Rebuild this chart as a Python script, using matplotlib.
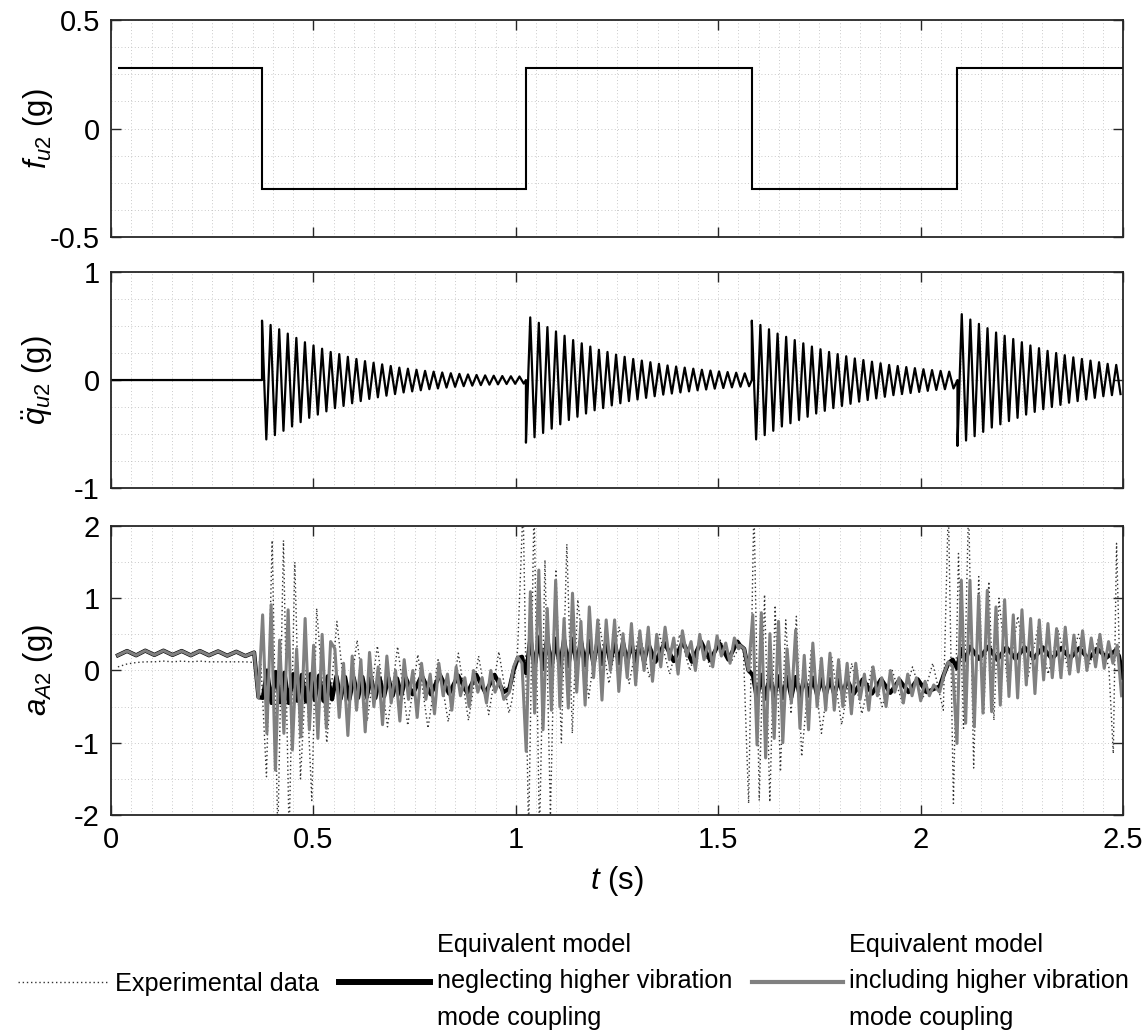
import numpy as np
import matplotlib
matplotlib.use('Agg')
import matplotlib.pyplot as plt
from matplotlib.ticker import MultipleLocator

plt.rcParams['font.family'] = 'Liberation Sans'
plt.rcParams['mathtext.fontset'] = 'custom'
plt.rcParams['mathtext.rm'] = 'Liberation Sans'
plt.rcParams['mathtext.it'] = 'Liberation Sans:italic'
plt.rcParams['axes.unicode_minus'] = False
fs = 21
fs_lab = 22.5
fs_leg = 18.2

# --- panel 1: square-wave excitation f_u2 (g)
f_edges = [0.017, 0.373, 1.025, 1.583, 2.091, 2.5]
f_levels = [0.28, -0.28, 0.28, -0.28, 0.28]

# --- panel 2: modal acceleration, per-cycle peak amplitudes of each burst
q_start = [0.373, 1.025, 1.583, 2.091]
q_sign = [1, -1, 1, -1]
q_half = 0.0106
q_amp1 = [0.55, 0.51, 0.47, 0.43, 0.39, 0.35, 0.32, 0.29, 0.26, 0.24, 0.215,
          0.195, 0.175, 0.16, 0.145, 0.13, 0.115, 0.105, 0.095, 0.085, 0.078,
          0.07, 0.063, 0.057, 0.052, 0.047, 0.043, 0.04, 0.037, 0.035, 0.033]
q_amp2 = [0.58, 0.53, 0.49, 0.45, 0.41, 0.37, 0.34, 0.31, 0.28, 0.26, 0.235,
          0.215, 0.195, 0.18, 0.165, 0.15, 0.135, 0.125, 0.115, 0.105, 0.095,
          0.088, 0.08, 0.074, 0.068, 0.062, 0.058]
q_amp3 = [0.55, 0.51, 0.47, 0.43, 0.40, 0.37, 0.34, 0.31, 0.285, 0.26, 0.24,
          0.22, 0.2, 0.185, 0.17, 0.155, 0.14, 0.13, 0.12, 0.11, 0.1, 0.092,
          0.085, 0.078, 0.072]
q_amp4 = [0.61, 0.56, 0.52, 0.48, 0.44, 0.41, 0.38, 0.35, 0.32, 0.295, 0.27,
          0.25, 0.23, 0.21, 0.195, 0.18, 0.165, 0.15, 0.14, 0.13, 0.12]

# --- panel 3: a_A2 (g); pieces of (start time, half period, successive extremes)
pre_vals = [0.21, 0.27, 0.21, 0.275, 0.215, 0.275, 0.215, 0.27, 0.21, 0.27,
            0.21, 0.265, 0.205, 0.26, 0.2]

black_pieces = [
    (0.017, 0.0225, pre_vals),
    (0.3535, 0.0107, [0.25, -0.37, -0.38, 0.0, -0.45, -0.02, -0.44, -0.03, -0.45,
                      -0.05, -0.42, -0.06, -0.43, -0.05, -0.41, -0.07, -0.42, -0.08,
                      -0.4, -0.08, -0.39, -0.09, -0.4, -0.1, -0.38, -0.09, -0.37,
                      -0.1, -0.38, -0.11, -0.36, -0.1, -0.35, -0.11, -0.34, -0.1]),
    (0.745, 0.0225, [-0.33, -0.07, -0.33, -0.06, -0.32, -0.07, -0.31, -0.06,
                     -0.31, -0.06, -0.3]),
    (0.984, 0.0104, [-0.25, 0.0, 0.17, 0.19, -0.04, 0.45, 0.03, 0.46, 0.02, 0.45,
                     0.04, 0.44, 0.05, 0.43, 0.06, 0.44, 0.07, 0.42, 0.07, 0.41,
                     0.08, 0.42, 0.09, 0.4, 0.1, 0.4, 0.1, 0.39, 0.11, 0.38,
                     0.12, 0.38, 0.12, 0.37]),
    (1.345, 0.0225, [0.12, 0.38, 0.13, 0.4, 0.12, 0.4, 0.14, 0.38, 0.15, 0.4]),
    (1.5535, 0.0106, [0.35, 0.3, 0.0, -0.06, -0.4, -0.06, -0.39, -0.07, -0.38,
                      -0.08, -0.38, -0.09, -0.37, -0.09, -0.36, -0.1, -0.35, -0.1,
                      -0.34, -0.12, -0.34, -0.12, -0.33, -0.13, -0.32, -0.13]),
    (1.835, 0.0225, [-0.32, -0.12, -0.32, -0.12, -0.31, -0.13, -0.3, -0.12, -0.3]),
    (2.047, 0.0107, [-0.22, -0.05, 0.1, 0.15, 0.03, 0.3, 0.15]),
    (2.122, 0.0225, [0.33, 0.16, 0.33, 0.15, 0.32, 0.16, 0.32, 0.17, 0.32, 0.16,
                     0.31, 0.17, 0.31, 0.16, 0.3, 0.18, 0.28]),
    (2.49, 0.01, [0.2, -0.1]),
]

gray_pieces = [
    (0.017, 0.0225, pre_vals),
    (0.3535, 0.0105, [0.25, -0.38, 0.77, -0.87, 0.91, -1.38, 0.42, -0.87, 0.84,
                      -1.1, 0.3, -0.92, 0.72, -0.82, 0.35, -0.94, 0.5, -0.8, 0.4]),
    (0.553, 0.0107, [0.3, -0.65, 0.1, -0.9, 0.2, -0.55, 0.15, -0.85, 0.25, -0.5,
                     0.05, -0.75, 0.2, -0.45, 0.0, -0.7, 0.15, -0.4, 0.0, -0.65,
                     0.1, -0.4, -0.05, -0.6, 0.1, -0.35, -0.05, -0.55, 0.05, -0.35,
                     -0.1, -0.5, 0.0, -0.3, -0.1, -0.45, 0.0, -0.3, -0.12, -0.4]),
    (0.984, 0.0104, [-0.3, 0.05, 0.19, 0.1, -1.12, 1.09, -0.59, 1.39, -0.82, 0.86,
                     -0.55, 1.25, -0.5, 0.72, -0.52, 1.07, -0.3, 0.68, -0.48, 0.88,
                     -0.1, 0.7, -0.41, 0.7, 0.0, 0.7, -0.29, 0.51, -0.1, 0.65,
                     -0.2, 0.55, 0.0, 0.6, -0.15, 0.5]),
    (1.358, 0.0107, [0.05, 0.6, 0.15, 0.45, -0.05, 0.55, 0.2, 0.4, 0.0, 0.5, 0.15,
                     0.4, 0.05, 0.48, 0.2, 0.38, 0.1, 0.45, 0.3]),
    (1.5535, 0.0106, [0.35, 0.3, 0.0, 0.77, -1.03, 0.8, -1.21, 0.51, -0.94, 0.68,
                      -1.0, 0.3, -0.45, 0.56, -0.8, 0.21, -0.82, 0.38, -0.5, 0.17,
                      -0.55, 0.24, -0.55, 0.15, -0.5, 0.1]),
    (1.829, 0.0107, [-0.6, 0.1, -0.4, -0.05, -0.55, 0.05, -0.35, -0.1, -0.5, 0.0,
                     -0.3, -0.1, -0.45, -0.05, -0.35, -0.1, -0.42, -0.15, -0.35,
                     -0.2]),
    (2.047, 0.0107, [-0.3, -0.05, 0.12, 0.05, -1.01, 1.25, -0.73, 1.25, -0.78,
                     1.04, -0.59, 1.11, -0.57, 0.88, -0.48, 0.98, -0.36, 0.77,
                     -0.38, 0.84, -0.2, 0.72, -0.32, 0.7, -0.13, 0.65, -0.1, 0.58,
                     -0.1, 0.6, -0.05, 0.49, -0.02, 0.55, 0.0, 0.45, 0.05, 0.5,
                     0.03, 0.4, 0.1, 0.35, -0.35]),
]

exp_pieces = [
    (0.017, 0.0225, [0.05, 0.09, 0.11, 0.12, 0.12, 0.13, 0.12, 0.13, 0.12, 0.13,
                     0.12, 0.12, 0.12, 0.12, 0.12, 0.11]),
    (0.370, 0.014, [0.12, -1.47, 1.8, -2.3, 1.8, -2.3, 1.5, -1.5, 0.0, -1.8]),
    (0.508, 0.025, [0.86, -1.0, 0.68, -0.62, 0.42, -0.7, 0.34, -0.78, 0.33, -0.76,
                    0.22, -0.8, 0.15, -0.71, 0.24, -0.69, 0.2, -0.61, 0.26, -0.59]),
    (0.991, 0.0135, [-0.4, 0.3, 2.3, -2.3, 2.3, -2.3, 1.53, -2.0, 1.4, -1.0, 1.75,
                     -0.87, 0.98]),
    (1.18, 0.025, [-0.38, 0.7, -0.18, 0.6, -0.18, 0.55, -0.1, 0.5, -0.05, 0.5,
                   0.0, 0.45, 0.05, 0.42, 0.1, 0.35]),
    (1.562, 0.0131, [0.3, -1.84, 2.3, -1.8, 1.05, -1.82, 0.9, -1.4, 0.7, -0.6,
                     0.75, -1.19]),
    (1.73, 0.025, [0.3, -0.87, 0.2, -0.75, 0.1, -0.6, 0.05, -0.5, 0.0, -0.45,
                   0.05, -0.4, 0.1]),
    (2.056, 0.0125, [-0.55, 2.3, -1.84, 1.62, -0.8, 2.3, -1.35, 1.3, -0.59, 1.23,
                     -0.69, 1.0]),
    (2.215, 0.025, [-0.2, 0.75, -0.1, 0.6, -0.05, 0.55, 0.0, 0.5, 0.05, 0.45, 0.05]),
    (2.476, 0.008, [-1.15, 1.76, 0.0]),
]

x_ticks = [0, 0.5, 1, 1.5, 2, 2.5]
x_labels = ['0', '0.5', '1', '1.5', '2', '2.5']
legend_labels = ['Experimental data',
                 'Equivalent model\nneglecting higher vibration\nmode coupling',
                 'Equivalent model\nincluding higher vibration\nmode coupling']


def join(pieces):
    ts, vs = [], []
    for t0, half, vals in pieces:
        ts.append(t0 + half * np.arange(len(vals)))
        vs.append(np.asarray(vals, float))
    return np.concatenate(ts), np.concatenate(vs)


def burst(t0, t1, sign, amps):
    ext = np.ravel([[sign * a, -sign * a] for a in amps])
    t = t0 + q_half * np.arange(len(ext))
    keep = t < t1
    return np.r_[t0, t[keep]], np.r_[0.0, ext[keep]]


def style(ax, ylim, yticks, ylabels, yminor):
    ax.set_xlim(0, 2.5)
    ax.set_ylim(ylim)
    ax.set_xticks(x_ticks)
    ax.set_yticks(yticks)
    ax.set_yticklabels(ylabels)
    ax.xaxis.set_minor_locator(MultipleLocator(0.05))
    ax.yaxis.set_minor_locator(MultipleLocator(yminor))
    ax.set_axisbelow(True)
    ax.grid(True, which='both', ls=(0, (1, 3)), lw=0.6, color='#b8b8b8')
    ax.tick_params(which='major', direction='in', top=True, right=True,
                   length=7, width=1.0, labelsize=fs, pad=8, color='#262626')
    ax.tick_params(which='minor', length=0)
    for s in ax.spines.values():
        s.set_linewidth(1.3)
        s.set_color('#262626')
    ax.yaxis.set_label_coords(-0.055, 0.5)


fig = plt.figure(figsize=(11.47, 10.32), dpi=100)
ax1 = fig.add_axes([0.0968, 0.7703, 0.8823, 0.2103])
ax2 = fig.add_axes([0.0968, 0.5271, 0.8823, 0.2093])
ax3 = fig.add_axes([0.0968, 0.2103, 0.8823, 0.2800])

ax1.stairs(f_levels, f_edges, baseline=None, color='k', lw=1.5)
style(ax1, (-0.5, 0.5), [-0.5, 0, 0.5], ['-0.5', '0', '0.5'], 0.125)
ax1.set_xticklabels([])
ax1.set_ylabel(r'$f_{u2}$ (g)', fontsize=fs_lab)

qt, qv = [0.0], [0.0]
ends = q_start[1:] + [2.5]
for t0, t1, s, amps in zip(q_start, ends, q_sign, [q_amp1, q_amp2, q_amp3, q_amp4]):
    bt, bv = burst(t0, t1, s, amps)
    qt.extend(bt)
    qv.extend(bv)
ax2.plot(qt, qv, color='k', lw=1.6)
style(ax2, (-1, 1), [-1, 0, 1], ['-1', '0', '1'], 0.25)
ax2.set_xticklabels([])
ax2.set_ylabel(r'$\ddot{q}_{u2}$ (g)', fontsize=fs_lab)

et, ev = join(exp_pieces)
bt, bv = join(black_pieces)
gt, gv = join(gray_pieces)
l_exp, = ax3.plot(et, ev, color='#333333', lw=1.0, ls=(0, (1, 2)))
l_blk, = ax3.plot(bt, bv, color='k', lw=3.0)
l_gry, = ax3.plot(gt, gv, color='#808080', lw=2.2)
style(ax3, (-2, 2), [-2, -1, 0, 1, 2], ['-2', '-1', '0', '1', '2'], 0.5)
ax3.set_xticklabels(x_labels)
ax3.set_ylabel(r'$a_{A2}$ (g)', fontsize=fs_lab)
ax3.set_xlabel(r'$t$ (s)', fontsize=fs_lab, labelpad=7)

leg = fig.legend([l_exp, l_blk, l_gry], legend_labels, loc='center',
                 bbox_to_anchor=(0.5, 0.049), ncol=3, frameon=False,
                 fontsize=fs_leg, handlelength=3.6, handletextpad=0.25,
                 columnspacing=0.8)
leg.get_lines()[1].set_linewidth(4.3)
leg.get_lines()[2].set_linewidth(3.0)
for t in leg.get_texts():
    t.set_linespacing(1.68)

fig.savefig('out.png', dpi=100)
